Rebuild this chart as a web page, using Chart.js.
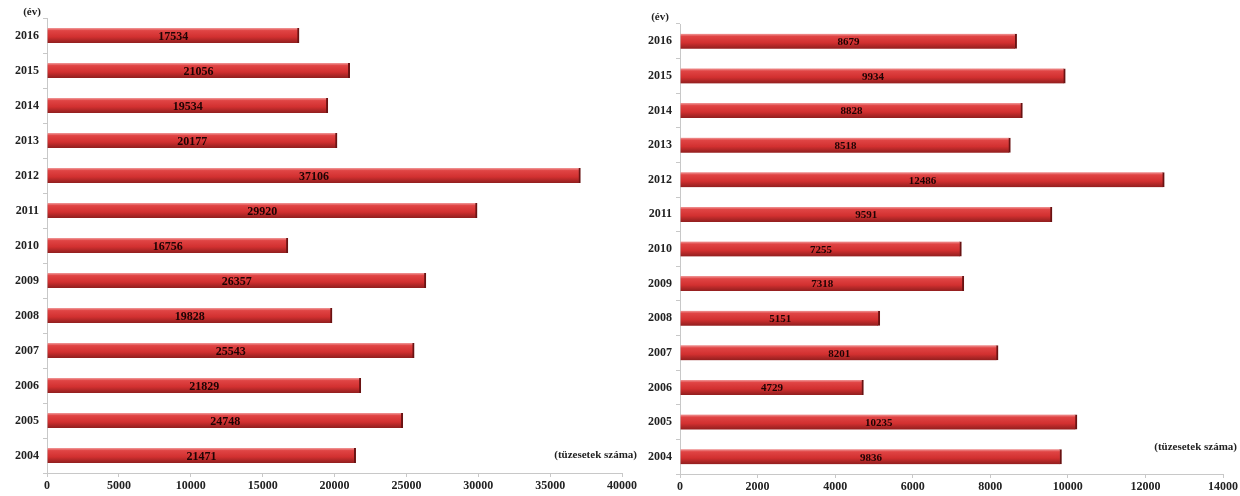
<!DOCTYPE html>
<html>
<head>
<meta charset="utf-8">
<script src="https://cdn.jsdelivr.net/npm/chart.js@4/dist/chart.umd.min.js"></script>
<style>
  body { margin: 0; background: #fff; }
  .wrap { position: absolute; top: 0; height: 496px; }
</style>
</head>
<body>
<div class="wrap" style="left:0;width:640px"><canvas id="leftChart" width="640" height="496"></canvas></div>
<div class="wrap" style="left:640px;width:600px"><canvas id="rightChart" width="600" height="496"></canvas></div>
<script>
const years = ['2016', '2015', '2014', '2013', '2012', '2011', '2010', '2009', '2008', '2007', '2006', '2005', '2004'];
const leftValues = [17534, 21056, 19534, 20177, 37106, 29920, 16756, 26357, 19828, 25543, 21829, 24748, 21471];
const rightValues = [8679, 9934, 8828, 8518, 12486, 9591, 7255, 7318, 5151, 8201, 4729, 10235, 9836];
const yearTitle = '(év)';
const valueTitle = '(tüzesetek száma)';

const serif = "'Liberation Serif', 'DejaVu Serif', serif";

// gradient per bar, using the y scale position of the category
function barFill(ctx) {
    const chart = ctx.chart;
    const yScale = chart.scales.y;
    if (!yScale || ctx.dataIndex === undefined) return '#d63434';
    const yc = yScale.getPixelForValue(ctx.dataIndex);
    if (!Number.isFinite(yc)) return '#d63434';
    const g = chart.ctx.createLinearGradient(0, yc - 7, 0, yc + 7);
    g.addColorStop(0, '#ee8a8a');
    g.addColorStop(0.15, '#e04444');
    g.addColorStop(0.6, '#d23030');
    g.addColorStop(1, '#962020');
    return g;
}

const barLabels = {
    id: 'barLabels',
    afterDatasetsDraw(chart, args, opts) {
        const ctx = chart.ctx;
        const meta = chart.getDatasetMeta(0);
        ctx.save();
        ctx.font = "bold " + opts.size + "px " + serif;
        ctx.fillStyle = '#1e0303';
        ctx.textAlign = 'center';
        ctx.textBaseline = 'middle';
        meta.data.forEach((bar, i) => {
            const v = chart.data.datasets[0].data[i];
            ctx.fillText(String(v), (bar.base + bar.x) / 2, bar.y + 1);
        });
        ctx.restore();
    }
};

const axisTitles = {
    id: 'axisTitles',
    afterDraw(chart, args, opts) {
        const ctx = chart.ctx;
        ctx.save();
        ctx.font = "bold 11px " + serif;
        ctx.fillStyle = '#222';
        ctx.textBaseline = 'middle';
        ctx.textAlign = 'center';
        ctx.fillText(yearTitle, opts.yx, opts.yy);
        ctx.textAlign = 'right';
        ctx.fillText(valueTitle, opts.vx, opts.vy);
        ctx.restore();
    }
};

function makeChart(canvasId, values, maxVal, step, area, titles, labelSize) {
    return new Chart(document.getElementById(canvasId), {
        type: 'bar',
        data: {
            labels: years,
            datasets: [{
                data: values,
                backgroundColor: barFill,
                borderColor: '#6a1212',
                borderWidth: { top: 0, bottom: 0, left: 0, right: 2 },
                borderSkipped: false,
                barThickness: 15
            }]
        },
        options: {
            indexAxis: 'y',
            responsive: false,
            animation: false,
            layout: { padding: { top: area.top, right: area.right, left: 0, bottom: 0 } },
            plugins: {
                legend: { display: false },
                tooltip: { enabled: false },
                axisTitles: titles,
                barLabels: { size: labelSize }
            },
            scales: {
                x: {
                    min: 0,
                    max: maxVal,
                    ticks: {
                        stepSize: step,
                        color: '#222',
                        font: { family: serif, weight: 'bold', size: 12 },
                        padding: 2,
                        callback: v => String(v)
                    },
                    grid: { drawOnChartArea: false, color: '#c8c8c8', tickLength: 4 },
                    border: { color: '#c8c8c8' },
                    afterFit(scale) { scale.height = area.xHeight; }
                },
                y: {
                    ticks: {
                        color: '#222',
                        font: { family: serif, weight: 'bold', size: 12 },
                        padding: 4
                    },
                    grid: { drawOnChartArea: false, color: '#c8c8c8', tickLength: 4 },
                    border: { color: '#c8c8c8' },
                    afterFit(scale) { scale.width = area.yWidth; }
                }
            }
        },
        plugins: [barLabels, axisTitles]
    });
}

makeChart('leftChart', leftValues, 40000, 5000,
    { top: 18, right: 18, xHeight: 23, yWidth: 47 },
    { yx: 32, yy: 12, vx: 637, vy: 455 }, 12);

makeChart('rightChart', rightValues, 14000, 2000,
    { top: 24, right: 14, xHeight: 22, yWidth: 40 },
    { yx: 20, yy: 17, vx: 597, vy: 447 }, 11);
</script>
</body>
</html>
